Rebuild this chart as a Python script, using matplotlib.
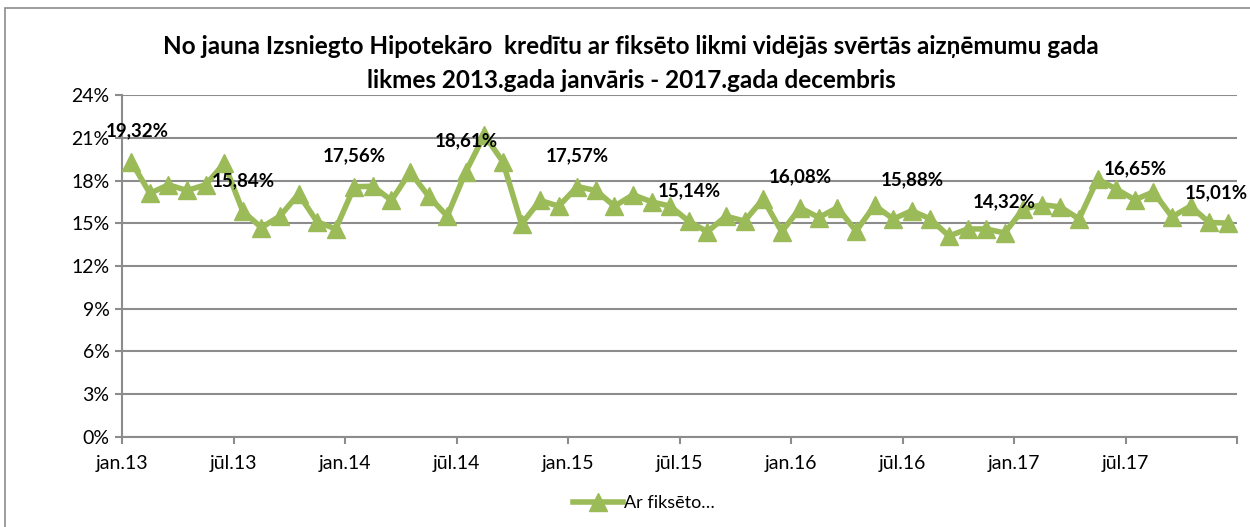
import numpy as np
import matplotlib.pyplot as plt
from matplotlib.patches import Rectangle

## DATA
rates = [19.32, 17.1, 17.7, 17.3, 17.7, 19.2, 15.84, 14.7, 15.5, 17.05,
         15.1, 14.6, 17.56, 17.6, 16.6, 18.6, 16.9, 15.5, 18.61, 21.2,
         19.3, 14.95, 16.6, 16.2, 17.57, 17.3, 16.2, 17.0, 16.5, 16.2,
         15.14, 14.4, 15.5, 15.15, 16.7, 14.4, 16.08, 15.4, 16.1, 14.45,
         16.25, 15.3, 15.88, 15.3, 14.1, 14.6, 14.6, 14.32, 16.0, 16.3,
         16.15, 15.3, 18.1, 17.4, 16.65, 17.2, 15.45, 16.2, 15.06, 15.01]
tick_labels = ['jan.13', 'jūl.13', 'jan.14', 'jūl.14', 'jan.15', 'jūl.15',
               'jan.16', 'jūl.16', 'jan.17', 'jūl.17', '']
label_idx = [0, 6, 12, 18, 24, 30, 36, 42, 47, 54, 59]
series_name = 'Ar fiksēto…'
title = ('No jauna Izsniegto Hipotekāro  kredītu ar fiksēto likmi vidējās svērtās aizņēmumu gada\n'
         'likmes 2013.gada janvāris - 2017.gada decembris')

green = '#9BBB59'
grid_c = '#8C8C8C'
plt.rcParams['font.family'] = ['Lato', 'DejaVu Sans']

fig = plt.figure(figsize=(12.5, 5.27), dpi=100)
ax = fig.add_axes([0.0976, 0.1708, 0.892, 0.6489])

# outer chart border
fig.patches.append(Rectangle((0.004, -0.05), 1.2, 1.035, transform=fig.transFigure,
                             fill=False, edgecolor='#8C8C8C', lw=1.2))

x = np.arange(len(rates))
ax.plot(x, rates, color=green, lw=4, marker='^', markersize=13,
        markerfacecolor=green, markeredgecolor=green, label=series_name, zorder=3)

for i in label_idx:
    txt = f'{rates[i]:.2f}'.replace('.', ',') + '%'
    dx = 0
    if i == 0:
        dx = 4
    if i == len(rates) - 1:
        dx = -8
    ax.annotate(txt, (x[i], rates[i]), xytext=(dx, 16), textcoords='offset points',
                ha='center', va='bottom', fontsize=13.5, fontweight='bold', color='black',
                zorder=4)

ax.set_xlim(-0.5, len(rates) - 0.5)
ax.set_ylim(0, 24)
ax.set_yticks(np.arange(0, 25, 3))
ax.set_yticklabels([f'{v}%' for v in range(0, 25, 3)])
ax.set_xticks(np.arange(-0.5, len(rates), 6))
ax.set_xticklabels(tick_labels)

ax.grid(axis='y', color=grid_c, lw=1.5)
ax.set_axisbelow(True)
for s in ['top', 'right']:
    ax.spines[s].set_visible(False)
for s in ['left', 'bottom']:
    ax.spines[s].set_color(grid_c)
    ax.spines[s].set_linewidth(1.5)
ax.tick_params(axis='both', colors=grid_c, labelcolor='black', labelsize=14, length=5, width=1.5)
ax.tick_params(axis='x', pad=8)
ax.tick_params(axis='y', pad=4)

fig.text(0.505, 0.8795, title, ha='center', va='center', fontsize=17.5, fontweight='bold',
         linespacing=1.55)

fig.legend(loc='center', bbox_to_anchor=(0.515, 0.045), frameon=False, fontsize=13,
           handlelength=2.8, handletextpad=0.05)

fig.savefig('out.png', dpi=100)
